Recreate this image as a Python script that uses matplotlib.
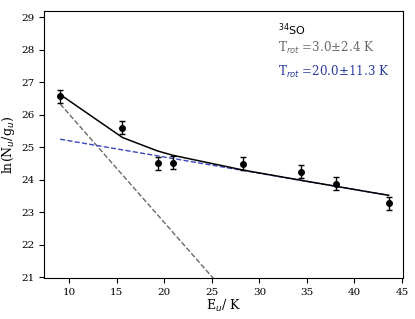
import matplotlib
matplotlib.use("Agg")
import matplotlib.pyplot as plt
import numpy as np

# upper-level energies (K) and ln(Nu/gu) with errors
eu = [9.05, 15.6, 19.3, 20.95, 28.3, 34.4, 38.1, 43.6]
ln_nu = [26.57, 25.60, 24.51, 24.53, 24.50, 24.24, 23.88, 23.28]
ln_err = [0.2, 0.2, 0.2, 0.2, 0.2, 0.2, 0.2, 0.2]

# two-component rotational diagram fit
t_cold, t_cold_err, a_cold = 3.0, 2.4, 29.35
t_warm, t_warm_err, a_warm = 20.0, 11.3, 25.70

plt.rcParams['font.family'] = 'DejaVu Serif'
plt.rcParams['font.size'] = 7.5

fig, ax = plt.subplots(figsize=(4.15, 3.19), dpi=100)

x = np.array(eu)
cold = a_cold - x / t_cold
warm = a_warm - x / t_warm
total = np.log(np.exp(cold) + np.exp(warm))

ax.plot(x, cold, '--', color='dimgray', lw=1.0)
ax.plot(x, warm, '--', color='#3a48c0', lw=1.0)
ax.plot(x, total, '-', color='black', lw=1.1)
ax.errorbar(eu, ln_nu, yerr=ln_err, fmt='o', color='black', ms=4,
            capsize=2, elinewidth=1.0, capthick=1.0)

ax.text(0.652, 0.913, r'$^{34}$SO', transform=ax.transAxes, fontsize=8,
        family='DejaVu Sans', color='black')
ax.text(0.652, 0.848, r'T$_{rot}$ =%.1f$\pm$%.1f K' % (t_cold, t_cold_err),
        transform=ax.transAxes, fontsize=8.6, color='dimgray')
ax.text(0.652, 0.757, r'T$_{rot}$ =%.1f$\pm$%.1f K' % (t_warm, t_warm_err),
        transform=ax.transAxes, fontsize=8.6, color='#2a3aa0')

ax.set_xlim(7.35, 45.1)
ax.set_ylim(20.97, 29.2)
ax.set_xticks([10, 15, 20, 25, 30, 35, 40, 45])
ax.set_yticks([21, 22, 23, 24, 25, 26, 27, 28, 29])
ax.set_xlabel(r'E$_u$/ K', fontsize=9, labelpad=1)
ax.set_ylabel(r'ln(N$_u$/g$_u$)', fontsize=9, labelpad=3)

fig.subplots_adjust(left=0.106, right=0.971, top=0.966, bottom=0.128)
fig.savefig('out.png')
